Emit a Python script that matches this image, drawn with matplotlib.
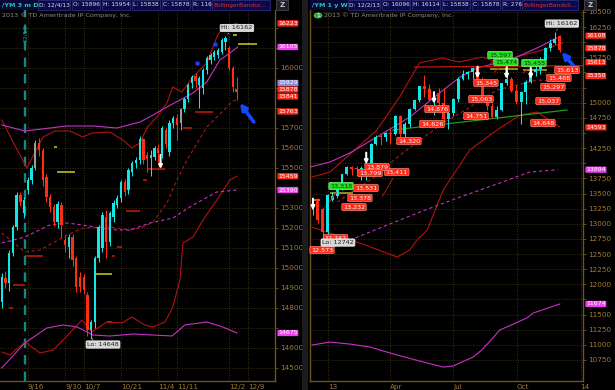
import numpy as np
import pandas as pd
import matplotlib
matplotlib.use("Agg")
import matplotlib.pyplot as plt
from matplotlib.patches import Rectangle
from matplotlib.ticker import FuncFormatter
import matplotlib.transforms as mtransforms

# ---------------- data: left chart, /YM daily (3 months) ----------------
l_open = [14830, 14950, 14925, 15075, 15205, 15365, 15275, 15390, 15440, 15500,
          15625, 15590, 15455, 15355, 15305, 15230, 15315, 15140, 15105, 15155,
          15050, 14955, 14955, 14865, 14690, 14730, 15050, 15100, 15255, 15130,
          15255, 15315, 15350, 15430, 15390, 15480, 15525, 15540, 15645, 15565,
          15550, 15555, 15600, 15565, 15690, 15580, 15725, 15750, 15725, 15795,
          15845, 15925, 15960, 15915, 15900, 15990, 16040, 16055, 16065, 16080,
          16130, 16100, 16000, 15896]
l_high = [14975, 14985, 15090, 15215, 15380, 15380, 15355, 15455, 15515, 15640,
          15650, 15600, 15470, 15370, 15320, 15335, 15330, 15160, 15170, 15170,
          15060, 14980, 14970, 14880, 14740, 15060, 15215, 15280, 15290, 15285,
          15340, 15365, 15440, 15445, 15500, 15535, 15555, 15660, 15650, 15580,
          15590, 15610, 15620, 15710, 15705, 15740, 15760, 15770, 15800, 15855,
          15925, 15965, 15975, 15960, 16000, 16060, 16075, 16090, 16100, 16150,
          16162, 16110, 16010, 15954]
l_low = [14800, 14900, 14885, 15060, 15190, 15310, 15250, 15370, 15420, 15490,
         15560, 15410, 15330, 15280, 15210, 15200, 15150, 15080, 15050, 15010,
         14880, 14880, 14870, 14660, 14648, 14700, 15030, 15080, 15050, 15110,
         15230, 15300, 15330, 15360, 15370, 15460, 15500, 15520, 15520, 15480,
         15460, 15540, 15530, 15550, 15600, 15560, 15700, 15640, 15690, 15780,
         15830, 15900, 15900, 15800, 15870, 15970, 16020, 16040, 16050, 16070,
         16090, 15990, 15880, 15838]
l_close = [14955, 14925, 15075, 15205, 15365, 15330, 15340, 15440, 15500, 15625,
           15590, 15440, 15355, 15305, 15230, 15320, 15215, 15115, 15155, 15040,
           14905, 14905, 14890, 14690, 14730, 15050, 15205, 15265, 15130, 15275,
           15325, 15350, 15430, 15380, 15490, 15525, 15540, 15645, 15540, 15545,
           15565, 15600, 15575, 15700, 15620, 15725, 15750, 15715, 15795, 15845,
           15915, 15955, 15935, 15950, 15990, 16050, 16065, 16080, 16090, 16140,
           16150, 16000, 15905, 15878]
l_gray = [9, 48]
l_start, l_end = "2013-09-05", "2013-12-13"
l_holiday = "2013-11-28"
l_tick_dates = ["2013-09-16", "2013-09-30", "2013-10-07", "2013-10-21",
                "2013-11-04", "2013-11-11", "2013-12-02", "2013-12-09"]
l_tick_labels = ["9/16", "9/30", "10/7", "10/21", "11/4", "11/11", "12/2", "12/9"]

# study lines (bar index, price)
l_bb_up_x = [0, 6.7, 11.1, 14.3, 18.3, 21.8, 24.2, 29, 32.5, 34.9, 37.1, 38.9, 41.6,
             44.3, 45.9, 48.3, 51.3, 55, 57.7, 59.1, 63.1]
l_bb_up_y = [15740, 15500, 15655, 15685, 15685, 15655, 15675, 15680, 15640, 15600,
             15625, 15700, 15755, 15825, 15905, 15880, 15955, 16025, 16155, 16200, 16223]
l_bb_lo_x = [0, 2.2, 6.2, 10.3, 13.8, 17, 21.5, 24.2, 28.2, 32.3, 34.9, 38.4, 40.6,
             43.8, 45.9, 47.8, 48.6, 51.3, 54, 57.7, 61.2, 63.1]
l_bb_lo_y = [14580, 14565, 14630, 14575, 14590, 14650, 14740, 14680, 14730, 14725,
             14755, 14715, 14705, 14730, 14805, 14940, 15125, 15155, 15240, 15340,
             15440, 15459]
l_mag_x = [0, 6.2, 17.5, 24.5, 30.9, 37.1, 40.6, 44.3, 47.8, 51.3, 55, 58.5, 61.2, 63.3]
l_mag_y = [15715, 15685, 15710, 15710, 15700, 15730, 15765, 15805, 15840, 15875,
           15930, 16040, 16075, 16105]
l_mag2_x = [0, 6.2, 12.1, 16.4, 20.2, 24.5, 29, 35.2, 45.7, 49.1, 55, 59.3, 63.1]
l_mag2_y = [14500, 14625, 14700, 14715, 14705, 14665, 14660, 14670, 14660, 14715,
            14730, 14705, 14675]
l_ma_x = [0, 6.2, 10.3, 17.5, 21.8, 29, 34.4, 37.9, 40.6, 44.3, 47, 49.7, 55, 62, 63.1]
l_ma_y = [15175, 15080, 15090, 15165, 15200, 15205, 15190, 15205, 15230, 15325,
          15440, 15540, 15705, 15835, 15841]
l_mad_x = [0, 6.2, 12.9, 17.5, 21.8, 26.4, 30.9, 34.4, 39.8, 45.9, 51.3, 57.7, 63.1]
l_mad_y = [15125, 15155, 15215, 15225, 15215, 15200, 15190, 15190, 15225, 15250,
           15315, 15380, 15390]
l_res_x0 = [51.8, 48.6, 39.2, 37.9, 33.3, 30.9, 29.6, 28.2, 6.2, 3.0, 2.0]
l_res_x1 = [56.7, 51.0, 43.8, 39.0, 37.1, 32.3, 30.4, 29.6, 11.1, 6.2, 3.0]
l_res_y = [15780, 15700, 15495, 15440, 15285, 15105, 15060, 14730, 15060, 14915, 14800]
l_yel_x0 = [14.0, 14.8, 25.0, 63.4, 62.0]
l_yel_x1 = [14.8, 19.7, 29.6, 68.4, 63.1]
l_yel_y = [15605, 15480, 14970, 16120, 16165]
l_dots_x = [52.4, 57.2]
l_dots_y = [16025, 16120]
l_sig_x = [42.6]
l_sig_y = [15530]
l_tags = [16223, 16105, 15929, 15878, 15841, 15763, 15459, 15390, 14675]
l_tag_kind = ["r", "m", "b", "r", "r", "r", "r", "m", "m"]
l_hi_bar, l_lo_bar = 60, 24

# ---------------- data: right chart, /YM weekly (1 year) ----------------
r_open = [13230, 13390, 13250, 12870, 13400, 13460, 13580, 13820, 13940, 13910,
          13900, 13920, 14000, 14320, 14440, 14430, 14500, 14480, 14780, 14490,
          14650, 14900, 15040, 15270, 15220, 15050, 15160, 14990, 14730, 14830,
          15060, 15400, 15480, 15500, 15570, 15370, 15030, 14950, 14770, 14880,
          15320, 15400, 15200, 15020, 15180, 15340, 15510, 15560, 15700, 15900,
          15990, 16096]
r_high = [13330, 13420, 13270, 13500, 13520, 13620, 13830, 13960, 13960, 13960,
          13960, 14060, 14330, 14460, 14480, 14520, 14560, 14800, 14790, 14680,
          14920, 15050, 15280, 15460, 15310, 15200, 15250, 15250, 14960, 15080,
          15420, 15540, 15520, 15597, 15580, 15420, 15100, 15000, 14950, 15330,
          15674, 15430, 15300, 15200, 15370, 15580, 15680, 15760, 15920, 16060,
          16162, 16114]
r_low = [13150, 13010, 12742, 12830, 13380, 13420, 13560, 13800, 13800, 13860,
         13720, 13720, 13980, 14300, 14300, 14360, 14320, 14470, 14430, 14430,
         14600, 14880, 15020, 15090, 15030, 14800, 14940, 14680, 14560, 14780,
         15020, 15380, 15400, 15400, 15330, 15030, 14880, 14751, 14730, 14870,
         15300, 15180, 14980, 14648, 14980, 15320, 15450, 15480, 15650, 15860,
         15970, 15838]
r_close = [13250, 13060, 12870, 13470, 13460, 13580, 13820, 13940, 13910, 13900,
           13920, 14000, 14320, 14440, 14430, 14500, 14480, 14780, 14490, 14650,
           14900, 15040, 15270, 15220, 15050, 15160, 14990, 14730, 14830, 15060,
           15400, 15480, 15500, 15570, 15370, 15030, 14950, 14770, 14880, 15320,
           15400, 15200, 15020, 15180, 15340, 15510, 15560, 15700, 15900, 15990,
           16050, 15878]
r_gray = [0]
r_start = "2012-12-10"
r_tick_dates = ["2013-01-01", "2013-04-01", "2013-07-01", "2013-10-01", "2014-01-01"]
r_tick_labels = ["13", "Apr", "Jul", "Oct", "14"]

r_mag_x = [-0.6, 3.5, 7.6, 13.2, 20, 26.9, 30.4, 33.9, 38, 42.1, 46.3, 50.4]
r_mag_y = [13938, 14020, 14169, 14434, 14764, 15210, 15425, 15574, 15657, 15756, 15905, 16070]
r_bb_up_x = [-0.2, 3.5, 7, 13.2, 17.9, 22, 26.7, 30.2, 35, 37.8, 42, 47.4, 51.6]
r_bb_up_y = [13772, 13855, 14103, 14549, 15095, 15657, 15739, 15673, 15756, 15673,
             15756, 15872, 15987]
r_bb_lo_x = [-0.2, 9.7, 17.4, 20, 21.5, 23.6, 26.9, 32.4, 38, 42.8, 46.3, 51]
r_bb_lo_y = [12946, 12681, 12450, 12566, 12731, 12896, 13557, 14219, 14549, 14797,
             14847, 14599]
r_ma_x = [5, 11.8, 18, 26.9, 31.8, 38, 46.3, 51]
r_ma_y = [13359, 13723, 14136, 14665, 14896, 15210, 15376, 15350]
r_mad_x = [4.1, 13.8, 22.1, 30.4, 38.6, 44.8, 50.6]
r_mad_y = [12615, 12929, 13194, 13442, 13673, 13855, 13894]
r_mag2_x = [-0.2, 3.5, 7.6, 11.8, 17.4, 22.1, 26.9, 28.9, 33.1, 35.1, 38.6, 44.2, 45.5, 51]
r_mag2_y = [10995, 11045, 11012, 10962, 10830, 10730, 10631, 10648, 10797, 10929,
            11243, 11442, 11524, 11674]
r_trend_x = [16.5, 52.5]
r_trend_y = [14549, 14880]
r_res_x = [21.0, 55.8]
r_res_y = [15590, 15613]
r_yel_x0 = [36.6, 43.4, 3.5, 0.0]
r_yel_x1 = [42.4, 48.3, 8.3, 1.4]
r_yel_y = [15558, 15541, 13508, 13392]
r_sig_x = [0, 11, 25, 34, 40, 45]
r_sig_y = [13320, 14080, 15080, 15500, 15490, 15490]
r_lab_vals = [13318, 15597, 15474, 15455, 15613, 15468, 15297, 15037, 14648, 15345,
              15063, 14751, 14876, 14626, 14320, 13411, 13879, 13799, 13531, 13378,
              13232, 12573, 12742]
r_lab_week = [3, 36, 37, 43, 50, 48, 47, 46, 45, 33, 32, 31, 23, 22, 17, 14, 11, 9,
              8, 7, 6, 0, 2]
r_lab_kind = ["g", "g", "g", "g"] + ["r"] * 19
r_tags = [16108, 15878, 15613, 15350, 14593, 13894, 11674]
r_tag_kind = ["r", "r", "r", "r", "r", "m", "m"]
r_hi_bar, r_lo_bar = 50, 2

# ---------------- styling ----------------
W, H = 615, 390
BG = "black"
TEAL, RED, GRAY = "#14e6e6", "#ff2d12", "#9c9c9c"
BAND, MA_RED, MAG = "#b01212", "#a51c1c", "#c433c4"
GRID, AXC, TXT = "#5a4816", "#6e5322", "#a07a34"
NAVY = "#07073c"
TAGC = {"r": "#ff2a1a", "m": "#f040f0", "b": "#8a8ad8", "g": "#22e022"}
plt.rcParams["font.family"] = ["DejaVu Sans"]

fig = plt.figure(figsize=(W / 100, H / 100), dpi=100, facecolor=BG)


def px_axes(x0, y0, x1, y1):
    ax = fig.add_axes([x0 / W, 1 - y1 / H, (x1 - x0) / W, (y1 - y0) / H])
    ax.set_facecolor(BG)
    return ax


def candles(ax, o, h, l, c, gray, width, minh):
    o, h, l, c = map(np.asarray, (o, h, l, c))
    x = np.arange(len(o))
    col = np.where(c >= o, TEAL, RED).astype(object)
    for g in gray:
        col[g] = GRAY
    ax.vlines(x, l, h, colors=list(col), lw=0.75, zorder=5)
    ax.bar(x, np.maximum(np.abs(c - o), minh), bottom=np.minimum(o, c),
           width=width, color=list(col), lw=0, zorder=6)


def style_axes(ax, yticks, xticks, xlabels, spines, tags, near):
    ax.set_yticks(yticks)
    ax.set_xticks(xticks)
    ax.set_xticklabels(xlabels, ha="left")
    ax.yaxis.tick_right()
    # price labels that sit under a coloured axis tag are not shown
    ax.yaxis.set_major_formatter(FuncFormatter(
        lambda v, pos: "" if any(abs(v - t) < near for t in tags) else f"{v:.0f}"))
    ax.tick_params(axis="y", colors=AXC, labelcolor=TXT, labelsize=5.2, length=2,
                   width=0.6, pad=1.5)
    ax.tick_params(axis="x", colors=AXC, labelcolor=TXT, labelsize=5.2, length=0, pad=2)
    for s in ax.spines:
        ax.spines[s].set_visible(s in spines)
        ax.spines[s].set_color(AXC)
        ax.spines[s].set_linewidth(1.0)
    ax.grid(True, color=GRID, lw=0.6, ls=(0, (1, 2.2)), zorder=0)


def axis_tag(ax, value, kind, dy=0):
    tr = mtransforms.blended_transform_factory(ax.transAxes, ax.transData)
    ax.annotate(f"{value}", xy=(1.0, value), xycoords=tr, xytext=(2.2, dy * 0.72),
                textcoords="offset points", ha="left", va="center", fontsize=4.5,
                color="white", annotation_clip=False, zorder=20,
                bbox=dict(boxstyle="round,pad=0.1", fc=TAGC[kind], ec="none"))


def segs(ax, x0, x1, y, color, lw):
    ax.hlines(y, x0, x1, colors=color, lw=lw, zorder=4)


def signals(ax, xs, ys, span):
    # small white down arrows marking signal bars
    for x, y in zip(xs, ys):
        ax.annotate("", xy=(x, y - span / 2), xytext=(x, y + span / 2), zorder=9,
                    arrowprops=dict(arrowstyle="-|>", color="white", lw=1.5,
                                    mutation_scale=5, shrinkA=0, shrinkB=0))


def hilo(ax, text, x, y, dx, dy):
    ax.annotate(text, xy=(x, y), xytext=(dx, dy), textcoords="offset points",
                ha="center", va="center", fontsize=4.6, color="#202020", zorder=22,
                bbox=dict(boxstyle="round,pad=0.18", fc="#d6d6d6", ec="#f4f4f4", lw=0.5),
                arrowprops=dict(arrowstyle="-", color="#d0d0d0", lw=0.6))


def blue_arrow(ax, tip, tail):
    ax.annotate("", xy=tip, xytext=tail, zorder=8,
                arrowprops=dict(arrowstyle="-|>", color="#1446ff", lw=2.6,
                                mutation_scale=9, shrinkA=0, shrinkB=0))


def header(x0, x1, items, title):
    fig.patches.append(Rectangle((x0 / W, 1 - 10 / H), (x1 - x0) / W, 10 / H,
                                 transform=fig.transFigure, fc=NAVY, ec="none", zorder=0))
    fig.text((x0 + 2) / W, 1 - 5 / H, title, color="#2ec8a0", fontsize=4.6,
             va="center", ha="left", fontweight="bold")
    for text, a, b, col in items:
        fig.patches.append(Rectangle((a / W, 1 - 9.5 / H), (b - a) / W, 9 / H,
                                     transform=fig.transFigure, fc="#0a0a4a",
                                     ec="#2c2c78", lw=0.6))
        fig.text((a + 1.2) / W, 1 - 5 / H, text, color=col, fontsize=4.2,
                 va="center", ha="left")
    fig.patches.append(Rectangle(((x1 + 6) / W, 1 - 10 / H), 12 / W, 10 / H,
                                 transform=fig.transFigure, fc="#202028", ec="#505060", lw=0.5))
    fig.text((x1 + 12) / W, 1 - 5 / H, "Z", color="#c8c8c8", fontsize=5, ha="center",
             va="center", fontweight="bold")


# ---------------- left panel ----------------
axL = px_axes(0, 10, 275, 381)
days = pd.bdate_range(l_start, l_end)
days = days[days != pd.Timestamp(l_holiday)]
l_ticks = [days.get_loc(pd.Timestamp(d)) for d in l_tick_dates]
style_axes(axL, np.arange(14500, 16201, 100), l_ticks, l_tick_labels, ["right", "bottom"],
           l_tags, 40)
axL.set_xlim(-0.46, 73.3)
axL.set_ylim(14435, 16290)

axL.axvline(6.3, color="#148888", lw=1.7, ls=(0, (4, 3)), zorder=3)
axL.text(6.3, 16215, "12/13", rotation=90, color="#18a0a0", fontsize=4.3,
         ha="center", va="top", zorder=3)
axL.plot(l_bb_up_x, l_bb_up_y, color=BAND, lw=0.8, zorder=3)
axL.plot(l_bb_lo_x, l_bb_lo_y, color=BAND, lw=0.8, zorder=3)
axL.plot(l_ma_x, l_ma_y, color=MA_RED, lw=0.8, ls=(0, (3, 2.5)), zorder=3)
axL.plot(l_mag_x, l_mag_y, color=MAG, lw=0.8, zorder=3)
axL.plot(l_mag2_x, l_mag2_y, color=MAG, lw=0.8, zorder=3)
axL.plot(l_mad_x, l_mad_y, color=MAG, lw=0.8, ls=(0, (3, 2.5)), zorder=3)
segs(axL, l_res_x0, l_res_x1, l_res_y, "#c81a0e", 1.1)
segs(axL, l_yel_x0, l_yel_x1, l_yel_y, "#c8d21e", 1.1)
candles(axL, l_open, l_high, l_low, l_close, l_gray, 0.62, 5)
axL.scatter(l_dots_x, l_dots_y, s=5, color="#1a3cff", zorder=7)
signals(axL, l_sig_x, l_sig_y, 70)
blue_arrow(axL, (63.9, 15825), (67.6, 15730))
hilo(axL, f"Hi: {max(l_high)}", l_hi_bar, max(l_high), 8.3, 5.5)
hilo(axL, f"Lo: {min(l_low)}", l_lo_bar, min(l_low), 8.5, -4.4)
l_tag_dy = [0, 0, -0.8, 2.9, 3.3, 3.9, 0, 0, 0]
for v, k, d in zip(l_tags, l_tag_kind, l_tag_dy):
    axis_tag(axL, v, k, d)
fig.text(2 / W, 1 - 15.5 / H, "2013 © TD Ameritrade IP Company, Inc.", color="#8c8c8c",
         fontsize=4.6, va="center")

# ---------------- right panel ----------------
axR = px_axes(310, 10, 583, 381)
weeks = pd.date_range(r_start, periods=len(r_open), freq="W-MON")
r_ticks = [(pd.Timestamp(d) - weeks[0]).days / 7 for d in r_tick_dates]
style_axes(axR, np.arange(10750, 16501, 250), r_ticks, r_tick_labels,
           ["left", "right", "bottom"], r_tags, 120)
axR.set_xlim(-0.62, 55.8)
axR.set_ylim(10401, 16533)

axR.plot(r_bb_up_x, r_bb_up_y, color=BAND, lw=0.8, zorder=3)
axR.plot(r_bb_lo_x, r_bb_lo_y, color=BAND, lw=0.8, zorder=3)
axR.plot(r_ma_x, r_ma_y, color=MA_RED, lw=0.8, ls=(0, (3, 2.5)), zorder=3)
axR.plot(r_mag_x, r_mag_y, color=MAG, lw=0.8, zorder=3)
axR.plot(r_mad_x, r_mad_y, color=MAG, lw=0.8, ls=(0, (3, 2.5)), zorder=3)
axR.plot(r_mag2_x, r_mag2_y, color=MAG, lw=0.8, zorder=3)
axR.plot(r_trend_x, r_trend_y, color="#1e9a1e", lw=0.9, zorder=3)
axR.plot(r_res_x, r_res_y, color="#c01810", lw=0.9, zorder=3)
segs(axR, r_yel_x0, r_yel_x1, r_yel_y, "#b4b41e", 1.1)
candles(axR, r_open, r_high, r_low, r_close, r_gray, 0.6, 16)
signals(axR, r_sig_x, r_sig_y, 190)
blue_arrow(axR, (51.4, 15839), (54.4, 15560))

r_lab_dx = [13.5, 12.8, 13.9, 12.9, 12, 13.7, 12.5, 12.4, 12.2, 13.3, 13.1, 13, 12.7,
            12.5, 13.7, 16, 10.8, 13.4, 14.3, 13.1, 12, 9, 13]
r_lab_dy = [18.5, 11.6, 12.1, 12.2, -4.4, -3.6, -2.2, -0.5, 1, -1.1, -0.1, 1.8, 1.2,
            1.4, 2.9, 26.9, 3.6, 2.4, 3.6, 2.9, 2.7, -0.4, 1.3]
for v, wk, k, dx, dy in zip(r_lab_vals, r_lab_week, r_lab_kind, r_lab_dx, r_lab_dy):
    axR.annotate(f"{v:,}", xy=(wk, v), xytext=(dx * 0.72, dy * 0.72),
                 textcoords="offset points", ha="center", va="center", fontsize=4.6,
                 color="white" if k == "r" else "#103010", zorder=15,
                 bbox=dict(boxstyle="round,pad=0.18", fc=TAGC[k],
                           ec="#ff9a80" if k == "r" else "#a0ffa0", lw=0.4),
                 arrowprops=dict(arrowstyle="-", color="#c02018", lw=0.6))
hilo(axR, f"Hi: {max(r_high)}", r_hi_bar, max(r_high), 5, 6.4)
hilo(axR, f"Lo: {min(r_low)}", r_lo_bar, min(r_low), 11, -2.3)
r_tag_dy = [0, 1.6, 3.6, 5.6, 0, 0, 0]
for v, k, d in zip(r_tags, r_tag_kind, r_tag_dy):
    axis_tag(axR, v, k, d)
fig.patches.append(plt.Circle((318 / W, 1 - 15.5 / H), 4 / W, transform=fig.transFigure,
                              fc="#1fae3a", ec="#80e080", lw=0.4))
fig.text(318 / W, 1 - 15.5 / H, "1", color="white", fontsize=4.3, ha="center", va="center")
fig.text(324 / W, 1 - 15.5 / H, "2013 © TD Ameritrade IP Company, Inc.", color="#8c8c8c",
         fontsize=4.6, va="center")

# separator between the two charts
fig.patches.append(Rectangle((302 / W, 0), 6 / W, 1, transform=fig.transFigure,
                             fc="#1c1c1c", ec="none"))

header(0, 270, [("D: 12/4/13", 38, 70, "#e0e0e0"), ("O: 15896", 72, 100, "#e0e0e0"),
                ("H: 15954", 102, 130, "#e0e0e0"), ("L: 15838", 132, 160, "#e0e0e0"),
                ("C: 15878", 162, 190, "#e0e0e0"), ("R: 116", 192, 210, "#e0e0e0"),
                ("BollingerBandsz...", 212, 270, "#e03030")], "/YM 3 m D")
header(310, 578, [("D: 12/2/13", 348, 380, "#e0e0e0"), ("O: 16096", 382, 410, "#e0e0e0"),
                  ("H: 16114", 412, 440, "#e0e0e0"), ("L: 15838", 442, 470, "#e0e0e0"),
                  ("C: 15878", 472, 500, "#e0e0e0"), ("R: 276", 502, 520, "#e0e0e0"),
                  ("BollingerBandsS...", 522, 578, "#e03030")], "/YM 1 y W")

fig.savefig("out.png", dpi=100, facecolor=BG)
